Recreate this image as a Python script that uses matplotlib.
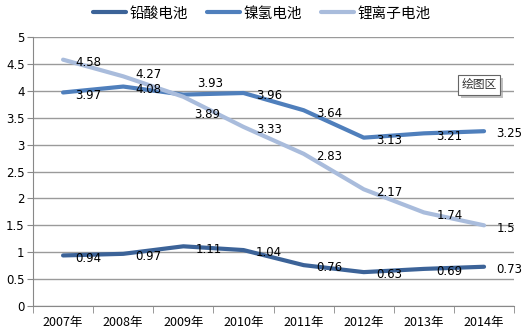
import matplotlib.pyplot as plt
import matplotlib.patheffects as pe

plt.rcParams['font.family'] = ['Noto Sans CJK SC', 'DejaVu Sans']

years = ["2007年", "2008年", "2009年", "2010年", "2011年", "2012年", "2013年", "2014年"]
lead_acid = [0.94, 0.97, 1.11, 1.04, 0.76, 0.63, 0.69, 0.73]
nimh = [3.97, 4.08, 3.93, 3.96, 3.64, 3.13, 3.21, 3.25]
li_ion = [4.58, 4.27, 3.89, 3.33, 2.83, 2.17, 1.74, 1.5]

series = [
    ("铅酸电池", lead_acid, "#3c6398"),
    ("镍氢电池", nimh, "#4f7fbc"),
    ("锂离子电池", li_ion, "#a9bcdc"),
]

fig = plt.figure(figsize=(5.23, 3.31), dpi=100)
ax = fig.add_axes([0.0631, 0.0755, 0.9199, 0.8125])

x = list(range(len(years)))
for name, vals, color in series:
    ax.plot(x, vals, color=color, lw=3, label=name, solid_capstyle='round', zorder=3)

# data labels, offset to the right of each point (in points)
special = {(1, 2): (10, 8), (2, 2): (8, -13), (2, 1): (9, 1)}
for si, (name, vals, color) in enumerate(series):
    for i, v in enumerate(vals):
        dx, dy = special.get((si, i), (9, -2))
        ax.annotate(f"{v:g}", (i, v), xytext=(dx, dy), textcoords='offset points',
                    ha='left', va='center', fontsize=8.5, family='DejaVu Sans',
                    color='black', zorder=4)

ax.set_xlim(-0.5, len(years) - 0.5)
ax.set_ylim(0, 5)
ax.set_yticks([0, 0.5, 1, 1.5, 2, 2.5, 3, 3.5, 4, 4.5, 5])
ax.set_yticklabels(["0", "0.5", "1", "1.5", "2", "2.5", "3", "3.5", "4", "4.5", "5"],
                   family='DejaVu Sans')
ax.set_xticks(x)
ax.set_xticklabels(years, fontsize=9)
ax.tick_params(axis='x', length=0, pad=7)
ax.tick_params(axis='y', length=4, direction='out', labelsize=8.5, color='#888888', pad=2)
ax.set_xticks([i - 0.5 for i in range(len(years) + 1)], minor=True)
ax.tick_params(axis='x', which='minor', length=5, direction='out', color='#888888')

ax.grid(axis='y', color='#9a9a9a', lw=1)
ax.set_axisbelow(True)
for side in ['top', 'right']:
    ax.spines[side].set_visible(False)
ax.spines['left'].set_color('#888888')
ax.spines['bottom'].set_color('#888888')

fig.legend(loc='upper center', bbox_to_anchor=(0.5, 1.02), ncol=3, frameon=False,
           fontsize=10.5, handlelength=2.3, columnspacing=1.3, handletextpad=0.2)

ax.text(0.927, 0.822, "绘图区", transform=ax.transAxes, fontsize=8.5, color='#333333',
        ha='center', va='center', zorder=6,
        bbox=dict(boxstyle='square,pad=0.3', fc='white', ec='#666666', lw=0.8,
                  path_effects=[pe.withSimplePatchShadow(offset=(2, -2), shadow_rgbFace='#999999', alpha=0.6)]))

fig.savefig("out.png", dpi=100)
